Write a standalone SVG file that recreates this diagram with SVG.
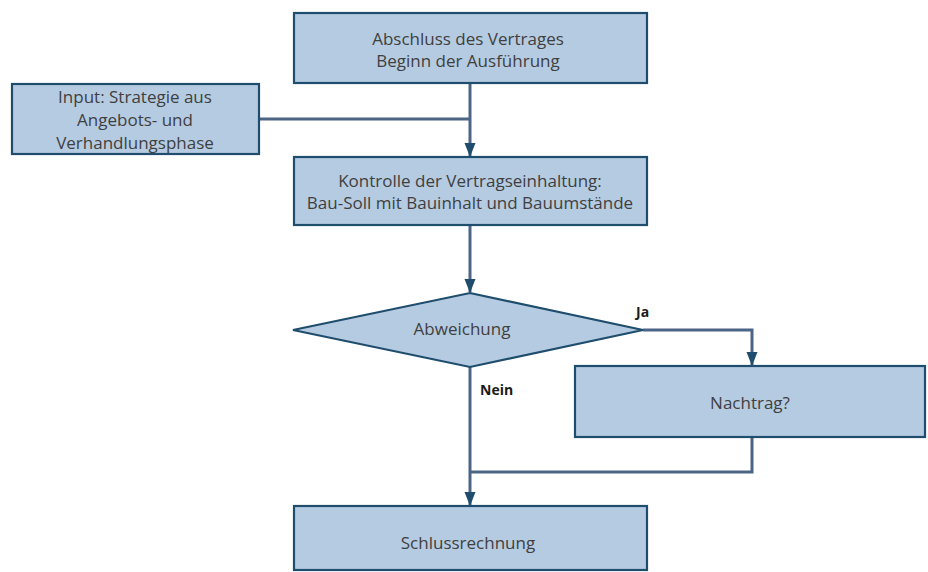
<svg xmlns="http://www.w3.org/2000/svg" width="928" height="572" viewBox="0 0 928 572">
<defs>
<style>
.box{fill:#b5cbe1;stroke:#1f4d6d;stroke-width:2.2}
.t{font-family:"Open Sans",sans-serif;font-size:17px;fill:#3f3f3f;text-anchor:middle;dominant-baseline:central}
.lbl{font-family:"Open Sans",sans-serif;font-size:14px;font-weight:bold;fill:#1a1a1a}
.c{fill:none;stroke:#4d6585;stroke-width:3}
</style>
<marker id="ah" viewBox="0 0 14 11" refX="13" refY="5.5" markerWidth="14" markerHeight="11" markerUnits="userSpaceOnUse" orient="auto" overflow="visible">
<path d="M0,0 L14,5.5 L0,11 z" fill="#1f4d6d"/>
</marker>
</defs>
<rect width="928" height="572" fill="#ffffff"/>
<g id="connectors">
<path class="c" d="M470,84 V156" marker-end="url(#ah)"/>
<path class="c" d="M259,119 H470"/>
<path class="c" d="M470,226 V292" marker-end="url(#ah)"/>
<path class="c" d="M643,330 H752 V365" marker-end="url(#ah)"/>
<path class="c" d="M470,367 V505" marker-end="url(#ah)"/>
<path class="c" d="M752,437 V472 H470"/>
</g>
<g id="n_abschluss">
<rect class="box" x="294" y="13" width="353" height="70"/>
<text class="t" x="468" y="38">Abschluss des Vertrages</text>
<text class="t" x="468" y="60">Beginn der Ausführung</text>
</g>
<g id="n_input">
<rect class="box" x="12" y="84" width="247" height="70"/>
<text class="t" x="135" y="96">Input: Strategie aus</text>
<text class="t" x="135" y="119">Angebots- und</text>
<text class="t" x="135" y="142">Verhandlungsphase</text>
</g>
<g id="n_kontrolle">
<rect class="box" x="294" y="157" width="353" height="68"/>
<text class="t" x="470" y="180">Kontrolle der Vertragseinhaltung:</text>
<text class="t" x="470" y="202">Bau-Soll mit Bauinhalt und Bauumstände</text>
</g>
<g id="n_abweichung">
<polygon class="box" points="470,293 643,330 470,367 293,330"/>
<text class="t" x="462" y="328">Abweichung</text>
</g>
<g id="n_nachtrag">
<rect class="box" x="575" y="366" width="350" height="71"/>
<text class="t" x="750" y="402">Nachtrag?</text>
</g>
<g id="n_schluss">
<rect class="box" x="294" y="506" width="353" height="64"/>
<text class="t" x="468" y="542">Schlussrechnung</text>
</g>
<text class="lbl" x="636" y="317">Ja</text>
<text class="lbl" x="480" y="395">Nein</text>
</svg>
